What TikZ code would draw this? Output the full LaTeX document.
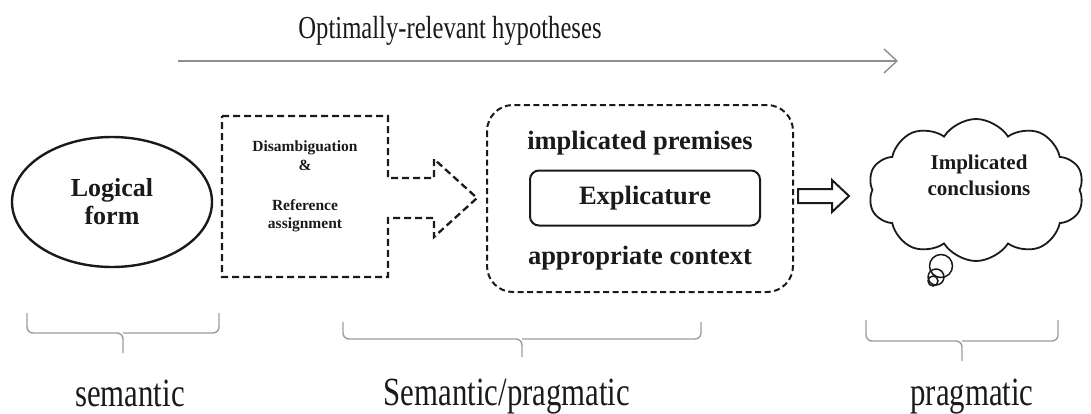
\documentclass[tikz,border=0pt]{standalone}
\usepackage{fontspec}
\setmainfont{Liberation Serif}
\newfontfamily\narrowserif{Liberation Serif}[FakeStretch=0.77]
\definecolor{InkBlack}{HTML}{1A1A1A}
\definecolor{BraceGray}{HTML}{9C9C9C}
\definecolor{ArrowGray}{HTML}{8E8E8E}
\usetikzlibrary{arrows.meta,positioning,shapes.geometric,shapes.symbols}
\tikzset{
  formshape/.style={ellipse, draw=InkBlack, line width=2.4pt, minimum width=200pt, minimum height=130pt, inner sep=0pt, align=center, font=\bfseries\fontsize{26}{28}\selectfont, text=InkBlack},
  dashline/.style={draw=InkBlack, line width=2.3pt, dash pattern=on 7pt off 4pt},
  smallbold/.style={align=center, inner sep=0pt, font=\bfseries\fontsize{15.5}{18}\selectfont, text=InkBlack},
  midbold/.style={align=center, inner sep=0pt, font=\bfseries\fontsize{26.5}{30}\selectfont, text=InkBlack},
  expbox/.style={draw=InkBlack, line width=2pt, rounded corners=9pt, minimum width=230pt, minimum height=55pt, inner sep=0pt, font=\bfseries\fontsize{26.5}{30}\selectfont, text=InkBlack},
  hollowarrow/.style={draw=InkBlack, line width=2pt, fill=white, line join=miter},
  thought/.style={cloud, draw=InkBlack, line width=1.8pt, cloud puffs=10, cloud puff arc=115, cloud ignores aspect, minimum width=216pt, minimum height=142pt, inner sep=0pt},
  bubble/.style={draw=InkBlack, line width=1.5pt},
  bracket/.style={draw=BraceGray, line width=1.4pt, rounded corners=6pt},
  spanlabel/.style={anchor=base, inner sep=0pt, font=\narrowserif\fontsize{40}{44}\selectfont, text=InkBlack},
  toplabel/.style={anchor=base, inner sep=0pt, font=\narrowserif\fontsize{32}{36}\selectfont, text=InkBlack},
  hypoarrow/.style={-{Straight Barb[length=13pt,width=24pt,line width=1.4pt]}, draw=ArrowGray, line width=1.4pt}
}

\begin{document}
\begin{tikzpicture}[x=1pt,y=-1pt]
\useasboundingbox (0,0) rectangle (1091,413);

% hypotheses arrow on top
\node[toplabel] (hypo) at (450,38) {Optimally-relevant hypotheses};
\coordinate (hypoStart) at (178,61);
\coordinate (hypoEnd) at (898,61);
\draw[hypoarrow] (hypoStart) -- (hypoEnd);

% logical form
\node[formshape] (logform) at (112,202) {Logical\\form};

% disambiguation block arrow
\draw[dashline] (222,116) -- (388,116) -- (388,178) -- (434,178) -- (434,159)
  -- (477,198) -- (434,237) -- (434,218) -- (388,218) -- (388,277) -- (222,277) -- cycle;
\node[smallbold] (disamb) at (305,186) {Disambiguation\\[1pt]\&\\[22pt]Reference\\assignment};

% explicature context
\draw[dashline, dash pattern=on 6pt off 3.5pt, line width=2pt, rounded corners=26pt] (487,105) rectangle (793,292);
\node[midbold] (premises) at (640,143) {implicated premises};
\node[expbox] (explic) at (645,198) {Explicature};
\node[midbold] (context) at (640,258) {appropriate context};

% hollow arrow to conclusions
\draw[hollowarrow] (798,189) -- (832,189) -- (832,180) -- (849,196) -- (832,212) -- (832,203) -- (798,203) -- cycle;

% implicated conclusions
\node[thought] (concl) at (976,190) {};
\node[smallbold, font=\bfseries\fontsize{21}{26}\selectfont] (concltext) at (979,175) {Implicated\\conclusions};
\draw[bubble, fill=white] (941,266) circle (11.5pt);
\draw[bubble] (936,277) circle (8pt);
\draw[bubble] (933,281) circle (5pt);

% spans
\draw[bracket] (27,313) |- (123,333) -- (123,353);
\draw[bracket] (219,313) |- (123,333);
\draw[bracket] (343,322) |- (522,339) -- (522,357);
\draw[bracket] (701,322) |- (522,339);
\draw[bracket] (866,320) |- (962,341) -- (962,361);
\draw[bracket] (1058,320) |- (962,341);

\node[spanlabel] (semantic) at (130,406) {semantic};
\node[spanlabel] (sempra) at (507,405) {Semantic/pragmatic};
\node[spanlabel] (pragmatic) at (972,405) {pragmatic};
\end{tikzpicture}
\end{document}
